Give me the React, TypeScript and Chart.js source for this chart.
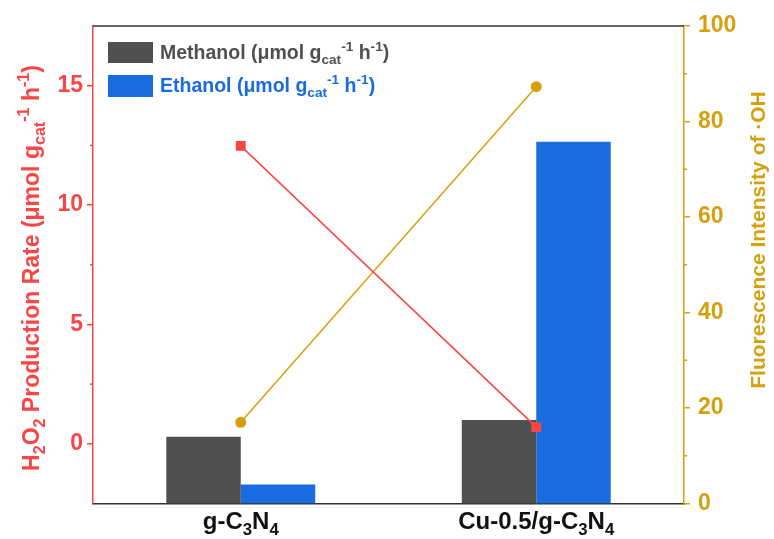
import React, { useEffect, useRef } from 'react';
import { Chart, registerables } from 'chart.js';

Chart.register(...registerables);

const categories = ['g-C3N4', 'Cu-0.5/g-C3N4'];
const methanolRate = [0.3, 1.0];
const ethanolRate = [-1.7, 12.65];
const h2o2Rate = [12.48, 0.7];
const ohIntensity = [17.0, 87.3];
const leftTicks = [0, 5, 10, 15];
const leftMinor = [2.5, 7.5, 12.5];
const rightTicks = [0, 20, 40, 60, 80, 100];
const rightMinor = [10, 30, 50, 70, 90];

const FONT = '"Liberation Sans", Arial, sans-serif';
const RED = '#f84646';
const GOLD = '#d4a10c';
const GRAY = '#505050';
const BLUE = '#1a6be0';
const AXIS_DARK = '#333333';

type Seg = { t: string; s?: 'sub' | 'sup' };

const unitSegs: Seg[] = [
  { t: ' (μmol g' },
  { t: 'cat', s: 'sub' },
  { t: '-1', s: 'sup' },
  { t: ' h' },
  { t: '-1', s: 'sup' },
  { t: ')' },
];

function chemSegs(label: string): Seg[] {
  const out: Seg[] = [];
  for (let i = 0; i < label.length; i++) {
    const ch = label[i];
    const prev = i > 0 ? label[i - 1] : '';
    const isSub = /\d/.test(ch) && /[A-Z]/.test(prev);
    out.push(isSub ? { t: ch, s: 'sub' } : { t: ch });
  }
  return out;
}

function fontFor(size: number, s?: string) {
  const sz = s ? size * 0.7 : size;
  return `bold ${sz}px ${FONT}`;
}

function measureSegs(ctx: CanvasRenderingContext2D, segs: Seg[], size: number) {
  let w = 0;
  for (const sg of segs) {
    ctx.font = fontFor(size, sg.s);
    w += ctx.measureText(sg.t).width;
  }
  return w;
}

function drawSegs(ctx: CanvasRenderingContext2D, segs: Seg[], size: number, x: number, y: number, color: string) {
  ctx.fillStyle = color;
  ctx.textBaseline = 'alphabetic';
  ctx.textAlign = 'left';
  let cx = x;
  for (const sg of segs) {
    ctx.font = fontFor(size, sg.s);
    let dy = 0;
    if (sg.s === 'sub') dy = size * 0.25;
    if (sg.s === 'sup') dy = -size * 0.42;
    ctx.fillText(sg.t, cx, y + dy);
    cx += ctx.measureText(sg.t).width;
  }
}

const decorPlugin = {
  id: 'decor',
  afterDraw(chart: any) {
    const ctx: CanvasRenderingContext2D = chart.ctx;
    const area = chart.chartArea;
    const yL = chart.scales.yL;
    const yR = chart.scales.yR;
    const x = chart.scales.x;
    ctx.save();

    // top border
    ctx.strokeStyle = AXIS_DARK;
    ctx.lineWidth = 1.5;
    ctx.beginPath();
    ctx.moveTo(area.left, area.top);
    ctx.lineTo(area.right, area.top);
    ctx.stroke();

    // minor ticks
    ctx.lineWidth = 1.5;
    ctx.strokeStyle = RED;
    for (const v of leftMinor) {
      const py = yL.getPixelForValue(v);
      ctx.beginPath();
      ctx.moveTo(area.left, py);
      ctx.lineTo(area.left - 3, py);
      ctx.stroke();
    }
    ctx.strokeStyle = GOLD;
    for (const v of rightMinor) {
      const py = yR.getPixelForValue(v);
      ctx.beginPath();
      ctx.moveTo(area.right, py);
      ctx.lineTo(area.right + 3, py);
      ctx.stroke();
    }

    // category labels
    categories.forEach((c, i) => {
      const segs = chemSegs(c);
      const w = measureSegs(ctx, segs, 24);
      const cx = x.getPixelForValue(i);
      drawSegs(ctx, segs, 24, cx - w / 2, 529, '#111111');
    });

    // left title
    const leftSegs: Seg[] = [
      { t: 'H' }, { t: '2', s: 'sub' }, { t: 'O' }, { t: '2', s: 'sub' },
      { t: ' Production Rate' }, ...unitSegs,
    ];
    const lw = measureSegs(ctx, leftSegs, 23);
    ctx.save();
    ctx.translate(39, 268);
    ctx.rotate(-Math.PI / 2);
    drawSegs(ctx, leftSegs, 23, -lw / 2, 0, RED);
    ctx.restore();

    // right title
    const rightSegs: Seg[] = [{ t: 'Fluorescence Intensity of ·OH' }];
    const rw = measureSegs(ctx, rightSegs, 21);
    ctx.save();
    ctx.translate(765, 240);
    ctx.rotate(-Math.PI / 2);
    drawSegs(ctx, rightSegs, 21, -rw / 2, 0, GOLD);
    ctx.restore();

    // legend
    ctx.fillStyle = GRAY;
    ctx.fillRect(108, 42, 45, 21);
    ctx.fillStyle = BLUE;
    ctx.fillRect(108, 75, 45, 22);
    drawSegs(ctx, [{ t: 'Methanol' }, ...unitSegs], 19.5, 160, 59, GRAY);
    drawSegs(ctx, [{ t: 'Ethanol' }, ...unitSegs], 19.5, 160, 92, BLUE);

    ctx.restore();
  },
};

export default function App() {
  const ref = useRef<HTMLCanvasElement | null>(null);

  useEffect(() => {
    if (!ref.current) return;
    const chart = new Chart(ref.current, {
      data: {
        labels: categories,
        datasets: [
          {
            type: 'line',
            label: 'H2O2',
            data: h2o2Rate,
            yAxisID: 'yL',
            borderColor: RED,
            backgroundColor: RED,
            borderWidth: 1.5,
            pointStyle: 'rect',
            pointRadius: 7,
            pointBorderWidth: 0,
            order: 0,
          },
          {
            type: 'line',
            label: 'OH',
            data: ohIntensity,
            yAxisID: 'yR',
            borderColor: GOLD,
            backgroundColor: GOLD,
            borderWidth: 1.5,
            pointStyle: 'circle',
            pointRadius: 5.5,
            pointBorderWidth: 0,
            order: 0,
          },
          {
            type: 'bar',
            label: 'Methanol',
            data: methanolRate,
            yAxisID: 'yL',
            base: -2.5,
            backgroundColor: GRAY,
            barPercentage: 1,
            categoryPercentage: 0.504,
            order: 1,
          },
          {
            type: 'bar',
            label: 'Ethanol',
            data: ethanolRate,
            yAxisID: 'yL',
            base: -2.5,
            backgroundColor: BLUE,
            barPercentage: 1,
            categoryPercentage: 0.504,
            order: 1,
          },
        ],
      } as any,
      options: {
        animation: false,
        responsive: false,
        maintainAspectRatio: false,
        layout: { padding: { top: 26, left: 0, right: 0, bottom: 0 } },
        plugins: { legend: { display: false }, tooltip: { enabled: false } },
        scales: {
          x: {
            type: 'category',
            offset: true,
            grid: { display: false, drawTicks: false },
            border: { display: true, color: AXIS_DARK, width: 1.5 },
            ticks: { display: false },
            afterFit: (s: any) => { s.height = 35.5; },
          },
          yL: {
            position: 'left',
            min: -2.5,
            max: 17.5,
            afterBuildTicks: (s: any) => { s.ticks = leftTicks.map((v) => ({ value: v })); },
            grid: { drawOnChartArea: false, drawTicks: true, tickLength: 6, color: RED, lineWidth: 1.5 },
            border: { display: true, color: RED, width: 1.5 },
            ticks: { color: RED, font: { family: FONT, size: 23, weight: 'bold' }, padding: 4, autoSkip: false },
            afterFit: (s: any) => { s.width = 93; },
          },
          yR: {
            position: 'right',
            min: 0,
            max: 100,
            afterBuildTicks: (s: any) => { s.ticks = rightTicks.map((v) => ({ value: v })); },
            grid: { drawOnChartArea: false, drawTicks: true, tickLength: 6, color: GOLD, lineWidth: 1.5 },
            border: { display: true, color: GOLD, width: 1.5 },
            ticks: { color: GOLD, font: { family: FONT, size: 23, weight: 'bold' }, padding: 8, autoSkip: false },
            afterFit: (s: any) => { s.width = 90; },
          },
        },
      } as any,
      plugins: [decorPlugin],
    });
    return () => chart.destroy();
  }, []);

  return (
    <div style={{ position: 'absolute', left: 0, top: 0, width: 774, height: 539, background: '#ffffff' }}>
      <canvas ref={ref} width={774} height={539} style={{ display: 'block', width: 774, height: 539 }} />
    </div>
  );
}
